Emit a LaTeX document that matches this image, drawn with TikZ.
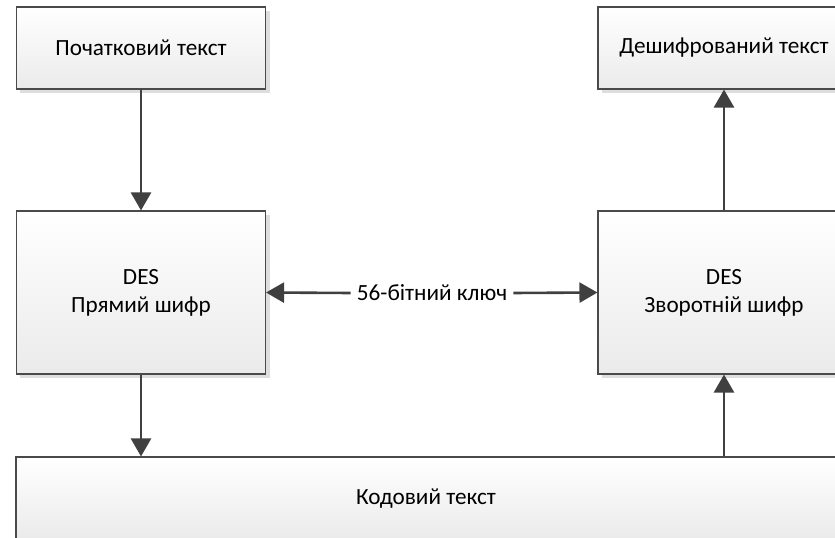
\documentclass[tikz,border=0pt]{standalone}
\usepackage{fontspec}
\setmainfont{Carlito}
\usetikzlibrary{arrows.meta,shadows}
\definecolor{edge}{HTML}{4A4A4A}
\definecolor{arr}{HTML}{404040}
\begin{document}
\begin{tikzpicture}[x=1bp,y=-1bp,
  box/.style={draw=edge, line width=1.1bp, rectangle, inner sep=0pt,
    top color=white, bottom color=black!8,
    drop shadow={shadow xshift=4bp, shadow yshift=-4bp, fill=black!13, opacity=1},
    font=\fontsize{23.2bp}{28bp}\selectfont, align=center},
  conn/.style={draw=arr, line width=2.6bp, -{Triangle[length=18bp,width=20bp]}},
  lbl/.style={font=\fontsize{23.2bp}{28bp}\selectfont, inner sep=6bp}]
\useasboundingbox (0,0) rectangle (835,538);
\clip (0,0) rectangle (835,538);
\fill[white] (0,0) rectangle (835,538);
\node[box, minimum width=249bp, minimum height=82bp] (tl) at (141,48) {Початковий текст};
\node[box, minimum width=249bp, minimum height=163bp] (ldes) at (141,292.5) {DES\\Прямий шифр};
\node[box, minimum width=252bp, minimum height=82bp] (rt) at (724,48) {Дешифрований текст};
\node[box, minimum width=252bp, minimum height=163bp] (rdes) at (724,292.5) {DES\\Зворотній шифр};
\node[box, minimum width=820bp, minimum height=83bp] (bot) at (426,498.5) {Кодовий текст};
\node[lbl] (key) at (432,293) {56-бітний ключ};
\draw[conn] (tl.south) -- (ldes.north);
\draw[conn] (ldes.south) -- (ldes.south |- bot.north);
\draw[conn] (rdes.south |- bot.north) -- (rdes.south);
\draw[conn] (rdes.north) -- (rt.south);
\draw[conn] (key.west) -- (ldes.east);
\draw[conn] (key.east) -- (rdes.west);
\end{tikzpicture}
\end{document}
